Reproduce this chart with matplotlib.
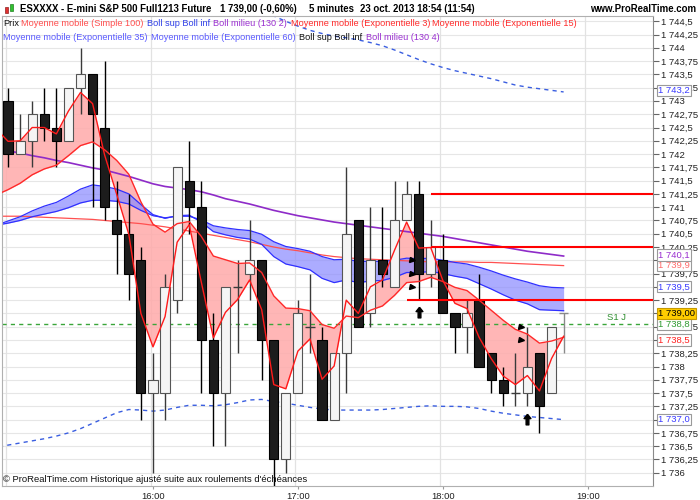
import numpy as np
import matplotlib
matplotlib.use("Agg")
import matplotlib.pyplot as plt
from matplotlib.path import Path
from matplotlib.patches import Rectangle
from matplotlib.transforms import blended_transform_factory

plt.rcParams['font.family'] = ['Liberation Sans', 'DejaVu Sans']

# ---------------- data (5-minute bars, 15:00 .. 18:50) ----------------
opens = [1743.0, 1742.0, 1742.25, 1742.75, 1742.5, 1742.25, 1743.25, 1743.5, 1742.5, 1740.75,
         1740.5, 1740.0, 1737.5, 1737.5, 1739.25, 1741.5, 1741.0, 1738.5, 1737.5, 1739.5,
         1739.75, 1740.0, 1738.5, 1736.25, 1737.5, 1738.75, 1738.5, 1737.0, 1738.25, 1740.75,
         1739.0, 1740.0, 1739.5, 1740.75, 1741.25, 1739.75, 1740.0, 1739.0, 1738.75, 1739.25,
         1738.25, 1737.75, 1737.5, 1737.5, 1738.25, 1737.5, 1739.0]
highs = [1743.25, 1742.75, 1743.0, 1743.25, 1743.25, 1743.25, 1744.0, 1743.5, 1743.75, 1741.5,
         1741.25, 1740.25, 1738.25, 1739.75, 1741.75, 1742.25, 1741.5, 1739.0, 1739.5, 1740.0,
         1740.75, 1740.0, 1738.5, 1737.5, 1739.25, 1739.75, 1738.75, 1738.25, 1741.75, 1740.75,
         1741.0, 1741.0, 1741.5, 1741.5, 1741.5, 1740.75, 1740.5, 1739.0, 1739.25, 1739.75,
         1738.25, 1738.0, 1738.25, 1738.75, 1738.25, 1738.75, 1739.0]
lows = [1741.75, 1742.0, 1741.75, 1742.25, 1741.75, 1742.25, 1742.75, 1741.0, 1740.75, 1739.75,
        1739.25, 1737.0, 1736.0, 1737.0, 1739.0, 1740.5, 1737.5, 1736.5, 1736.5, 1738.25,
        1739.25, 1737.75, 1735.75, 1736.0, 1737.5, 1738.25, 1737.0, 1737.0, 1737.5, 1738.75,
        1738.75, 1739.5, 1739.5, 1740.75, 1739.25, 1739.5, 1739.0, 1738.25, 1738.25, 1738.0,
        1737.5, 1737.25, 1737.25, 1737.25, 1736.75, 1737.5, 1738.25]
closes = [1742.0, 1742.25, 1742.75, 1742.5, 1742.25, 1743.25, 1743.5, 1742.75, 1741.0, 1740.5,
          1739.75, 1737.5, 1737.75, 1739.5, 1741.75, 1741.0, 1738.5, 1737.5, 1739.5, 1739.5,
          1740.0, 1738.5, 1736.25, 1737.5, 1739.0, 1738.75, 1737.0, 1738.25, 1740.5, 1738.75,
          1740.0, 1739.75, 1740.75, 1741.25, 1739.75, 1740.25, 1739.0, 1738.75, 1739.0, 1738.0,
          1737.75, 1737.5, 1737.5, 1738.0, 1737.25, 1738.75, 1739.0]

# indicators, starting one bar before the first visible bar
ema3 = [1742.48, 1742.24, 1742.25, 1742.50, 1742.50, 1742.38, 1742.81, 1743.16, 1742.95, 1741.98,
        1741.24, 1740.49, 1739.00, 1738.37, 1738.94, 1740.34, 1740.67, 1739.59, 1738.54, 1739.02,
        1739.26, 1739.63, 1739.07, 1737.66, 1737.58, 1738.29, 1738.52, 1737.76, 1738.01, 1739.25,
        1739.00, 1739.50, 1739.63, 1740.19, 1740.72, 1740.23, 1740.24, 1739.62, 1739.19, 1739.09,
        1738.55, 1738.15, 1737.82, 1737.66, 1737.83, 1737.54, 1738.15, 1738.57]
ema15 = [1741.23, 1741.33, 1741.45, 1741.61, 1741.72, 1741.79, 1741.97, 1742.16, 1742.23, 1742.08,
         1741.88, 1741.62, 1741.10, 1740.68, 1740.53, 1740.69, 1740.73, 1740.45, 1740.08, 1740.01,
         1739.94, 1739.95, 1739.77, 1739.33, 1739.10, 1739.09, 1739.05, 1738.79, 1738.72, 1738.95,
         1738.92, 1739.06, 1739.14, 1739.34, 1739.58, 1739.60, 1739.68, 1739.60, 1739.49, 1739.43,
         1739.25, 1739.06, 1738.87, 1738.70, 1738.61, 1738.44, 1738.48, 1738.55]
ema35 = [1740.66, 1740.74, 1740.82, 1740.93, 1741.02, 1741.09, 1741.21, 1741.34, 1741.42, 1741.39,
         1741.34, 1741.25, 1741.05, 1740.86, 1740.79, 1740.84, 1740.85, 1740.72, 1740.54, 1740.48,
         1740.43, 1740.40, 1740.30, 1740.07, 1739.93, 1739.88, 1739.82, 1739.66, 1739.58, 1739.63,
         1739.58, 1739.61, 1739.62, 1739.68, 1739.77, 1739.77, 1739.79, 1739.75, 1739.70, 1739.66,
         1739.56, 1739.46, 1739.35, 1739.25, 1739.18, 1739.07, 1739.06, 1739.05]
ema60 = [1740.66, 1740.70, 1740.75, 1740.82, 1740.87, 1740.92, 1740.99, 1741.08, 1741.13, 1741.13,
         1741.11, 1741.06, 1740.94, 1740.84, 1740.80, 1740.83, 1740.83, 1740.76, 1740.65, 1740.61,
         1740.58, 1740.56, 1740.49, 1740.35, 1740.26, 1740.22, 1740.17, 1740.07, 1740.01, 1740.02,
         1739.98, 1739.98, 1739.98, 1740.00, 1740.04, 1740.03, 1740.04, 1740.00, 1739.96, 1739.93,
         1739.87, 1739.80, 1739.72, 1739.65, 1739.59, 1739.52, 1739.49, 1739.48]
sma100 = [1740.83, 1740.83, 1740.83, 1740.82, 1740.81, 1740.80, 1740.79, 1740.78, 1740.77, 1740.75,
          1740.73, 1740.71, 1740.69, 1740.66, 1740.63, 1740.59, 1740.55, 1740.51, 1740.47, 1740.43,
          1740.39, 1740.35, 1740.30, 1740.25, 1740.21, 1740.18, 1740.14, 1740.10, 1740.07, 1740.05,
          1740.03, 1740.02, 1740.01, 1740.00, 1739.99, 1739.98, 1739.97, 1739.97, 1739.97, 1739.97,
          1739.96, 1739.96, 1739.95, 1739.94, 1739.93, 1739.92, 1739.91, 1739.90]
boll_mid = [1742.08, 1742.06, 1742.02, 1741.97, 1741.93, 1741.88, 1741.84, 1741.79, 1741.74, 1741.70,
            1741.64, 1741.58, 1741.51, 1741.44, 1741.39, 1741.36, 1741.33, 1741.29, 1741.23, 1741.16,
            1741.11, 1741.06, 1741.00, 1740.94, 1740.89, 1740.84, 1740.80, 1740.76, 1740.72, 1740.69,
            1740.66, 1740.63, 1740.60, 1740.57, 1740.54, 1740.51, 1740.48, 1740.45, 1740.41, 1740.37,
            1740.33, 1740.29, 1740.25, 1740.21, 1740.17, 1740.14, 1740.11, 1740.08]
boll_up = [1746.40, 1746.35, 1746.30, 1746.25, 1746.20, 1746.15, 1746.10, 1746.05, 1746.00, 1745.95,
           1745.90, 1745.85, 1745.80, 1745.72, 1745.64, 1745.56, 1745.48, 1745.38, 1745.26, 1745.12,
           1744.98, 1744.84, 1744.72, 1744.60, 1744.50, 1744.41, 1744.33, 1744.27, 1744.22, 1744.19,
           1744.15, 1744.10, 1744.04, 1743.96, 1743.87, 1743.78, 1743.70, 1743.63, 1743.57, 1743.52,
           1743.47, 1743.42, 1743.36, 1743.30, 1743.26, 1743.23, 1743.20, 1743.17]
boll_low = [1736.48, 1736.52, 1736.56, 1736.60, 1736.64, 1736.69, 1736.75, 1736.83, 1736.93, 1737.03,
            1737.13, 1737.19, 1737.18, 1737.16, 1737.18, 1737.23, 1737.27, 1737.27, 1737.26, 1737.28,
            1737.32, 1737.37, 1737.38, 1737.34, 1737.31, 1737.27, 1737.23, 1737.20, 1737.18, 1737.18,
            1737.18, 1737.18, 1737.19, 1737.21, 1737.23, 1737.25, 1737.26, 1737.25, 1737.25, 1737.24,
            1737.21, 1737.16, 1737.12, 1737.09, 1737.06, 1737.04, 1737.02, 1737.00]

sr_levels = [1741.25, 1740.25, 1739.25]
sr_start = [35, 35, 33]
s1_level = 1738.8
arrow_idx = [34, 43]
arrow_val = [1739.0, 1737.0]
tri_idx = [34, 34, 34, 43, 43]
tri_val = [1740.0, 1739.75, 1739.5, 1738.75, 1738.5]

hour_idx = [0, 12, 24, 36, 48]
hour_labels = ["15:00", "16:00", "17:00", "18:00", "19:00"]

tag_vals = [1743.2, 1739.9, 1740.1, 1739.5, 1738.8, 1739.0, 1738.5, 1737.0]
tag_text = ["1 743,2", "1 739,9", "1 740,1", "1 739,5", "1 738,8", "1 739,00", "1 738,5", "1 737,0"]
tag_color = ["#3a3aff", "#ff6a6a", "#9a2fd0", "#3a3aff", "#2f9a2f", "#000000", "#ff2020", "#3a3aff"]
tag_face = ["white", "white", "white", "white", "white", "#ffcc00", "white", "white"]
hidden_ticks = [1740.0, 1739.5, 1739.0, 1738.5, 1737.0]

# ---------------- figure ----------------
W, H = 700, 500
fig = plt.figure(figsize=(W / 100, H / 100), dpi=100)
fig.patch.set_facecolor("white")
ax = fig.add_axes([2 / W, (H - 486) / H, 651 / W, 470 / H])
ax.set_facecolor("white")
ax.set_xlim(-0.5, 53.4)
ax.set_ylim(1735.75, 1744.6)

n = len(closes)
xi = np.arange(-1, n)

# grid
yt = np.arange(1736.0, 1744.51, 0.25)
ax.set_yticks(yt)
ax.yaxis.tick_right()
for v in yt:
    ax.axhline(v, color="#e6e6e6", lw=0.8, zorder=0)
for h in hour_idx:
    ax.axvline(h - 0.2, color="#e2e2e2", lw=0.9, zorder=0)

def fr(v, pos=None):
    if any(abs(v - hv) < 1e-6 for hv in hidden_ticks):
        return ""
    s = f"{v:.2f}".rstrip("0").rstrip(".")
    ip, _, dp = s.partition(".")
    if len(ip) > 3:
        ip = ip[:-3] + " " + ip[-3:]
    return ip + ("," + dp if dp else "")

ax.yaxis.set_major_formatter(plt.FuncFormatter(fr))
ax.tick_params(axis="y", which="major", length=4, width=0.8, color="#666666",
               pad=1.5, labelsize=6.8, labelcolor="#222222")
ax.set_xticks(hour_idx[1:])
ax.set_xticklabels(hour_labels[1:])
ax.tick_params(axis="x", length=2, color="#999999", pad=2, labelsize=6.8, labelcolor="#222222")
for s in ["left", "bottom", "top"]:
    ax.spines[s].set_color("#b0b0b0")
    ax.spines[s].set_linewidth(0.8)
ax.spines["right"].set_color("#8a8a8a")

# fills
e3 = np.array(ema3); e15 = np.array(ema15)
ax.fill_between(xi, e3, e15, color="#ffaaaa", alpha=0.85, lw=0, zorder=1)
ax.fill_between(xi, ema35, ema60, color="#8c8cff", alpha=0.72, lw=0, zorder=1.2)

# lines under candles
ax.plot(xi, boll_up, color="#3a5ee0", lw=1.0, ls=(0, (3, 3)), zorder=2)
ax.plot(xi, boll_low, color="#3a5ee0", lw=1.0, ls=(0, (3, 3)), zorder=2)
ax.plot(xi, boll_mid, color="#8e2bc8", lw=1.2, zorder=2)
ax.plot(xi, sma100, color="#ff5050", lw=0.9, zorder=2)
ax.plot(xi, ema35, color="#3030ff", lw=0.9, zorder=2)
ax.plot(xi, ema60, color="#3030ff", lw=0.9, zorder=2)

# S1 green dashed
ax.axhline(s1_level, color="#3aa53a", lw=1.0, ls=(0, (3, 3)), zorder=2.5)
ax.text(51.2, s1_level + 0.04, "S1 J", color="#2f8f2f", fontsize=6.8, ha="right", va="bottom", zorder=6)

# candles
bw = 0.76
for i in range(n):
    o, h, l, c = opens[i], highs[i], lows[i], closes[i]
    last = (i == n - 1)
    wick_c = "#8a8a8a" if last else ("#000000" if c < o else "#3a3a3a")
    ax.vlines(i, l, h, color=wick_c, lw=1.0, zorder=3)
    if o == c:
        ax.hlines(o, i - bw / 2, i + bw / 2, color=wick_c, lw=1.0, zorder=4)
    elif c < o:
        ax.bar(i, c - o, bottom=o, width=bw, color="#1c1c1c", edgecolor="#000000", lw=0.8, zorder=4)
    else:
        ax.bar(i, c - o, bottom=o, width=bw, color="#f5f5f5", edgecolor="#555555", lw=0.8, zorder=4)

# lines above candles
ax.plot(xi, e15, color="#ff2a2a", lw=1.0, zorder=5)
ax.plot(xi, e3, color="#ff1a1a", lw=1.0, zorder=5)

# support / resistance
for lv, st in zip(sr_levels, sr_start):
    ax.hlines(lv, st, 53.4, color="#ff0000", lw=1.5, zorder=5.5)

# markers
ax.plot(np.array(tri_idx) - 0.55, tri_val, ls="none", marker=">", ms=3.6, color="black", zorder=6)
arrow_path = Path([(0, 1), (-0.55, 0.3), (-0.22, 0.3), (-0.22, -0.7), (0.22, -0.7),
                   (0.22, 0.3), (0.55, 0.3), (0, 1)])
ax.plot(arrow_idx, arrow_val, ls="none", marker=arrow_path, ms=9, color="black", zorder=6)

# footer text
fig.text(3 / W, 1 - 479 / H, "\u00a9 ProRealTime.com Historique ajust\u00e9 suite aux roulements d'\u00e9ch\u00e9ances",
         fontsize=6.8, color="#111111", ha="left", va="center", zorder=10)

# right-side price tags
tr = blended_transform_factory(fig.transFigure, ax.transData)
for v, t, col, fc in zip(tag_vals, tag_text, tag_color, tag_face):
    ax.text(658 / W, v, t, transform=tr, color=col, fontsize=6.8, ha="left", va="center",
            zorder=20, clip_on=False,
            bbox=dict(boxstyle="square,pad=0.12", fc=fc,
                      ec="#c79a00" if fc != "white" else "#9a9a9a", lw=0.8))

# header
hy = 1 - 8.5 / H
fig.text(20 / W, hy, "ESXXXX - E-mini S&P 500 Full1213 Future", fontsize=6.9, fontweight="bold", va="center")
fig.text(220 / W, hy, "1 739,00 (-0,60%)", fontsize=6.9, fontweight="bold", va="center")
fig.text(354 / W, hy, "5 minutes", fontsize=6.9, fontweight="bold", va="center", ha="right")
fig.text(360 / W, hy, "23 oct. 2013 18:54 (11:54)", fontsize=6.9, fontweight="bold", va="center")
fig.text(696 / W, hy, "www.ProRealTime.com", fontsize=6.9, fontweight="bold", va="center", ha="right")
# header icon (small candles)
fig.add_artist(Rectangle((4.5 / W, 1 - 13 / H), 3.5 / W, 6 / H, transform=fig.transFigure,
                         fc="#e03030", ec="#902020", lw=0.5))
fig.add_artist(Rectangle((9.5 / W, 1 - 11 / H), 3.5 / W, 7 / H, transform=fig.transFigure,
                         fc="#30c030", ec="#208020", lw=0.5))

# legend lines
l1 = 1 - 23.5 / H
l2 = 1 - 37.5 / H
fs = 6.6
fig.text(3 / W, l1, "Prix", color="#111111", fontsize=fs, va="center")
fig.text(21 / W, l1, "Moyenne mobile (Simple 100)", color="#ff4d4d", fontsize=fs, va="center")
fig.text(147 / W, l1, "Boll sup Boll inf", color="#2f3fe8", fontsize=fs, va="center")
fig.text(213 / W, l1, "Boll milieu (130 2)", color="#9a2fd0", fontsize=fs, va="center")
fig.text(291 / W, l1, "Moyenne mobile (Exponentielle 3)", color="#ff2a2a", fontsize=fs, va="center")
fig.text(432 / W, l1, "Moyenne mobile (Exponentielle 15)", color="#ff2a2a", fontsize=fs, va="center")
fig.text(3 / W, l2, "Moyenne mobile (Exponentielle 35)", color="#5a5aff", fontsize=fs, va="center")
fig.text(151 / W, l2, "Moyenne mobile (Exponentielle 60)", color="#5a5aff", fontsize=fs, va="center")
fig.text(299 / W, l2, "Boll sup Boll inf", color="#111111", fontsize=fs, va="center")
fig.text(366 / W, l2, "Boll milieu (130 4)", color="#9a2fd0", fontsize=fs, va="center")

fig.savefig("out.png", dpi=100, facecolor="white")
